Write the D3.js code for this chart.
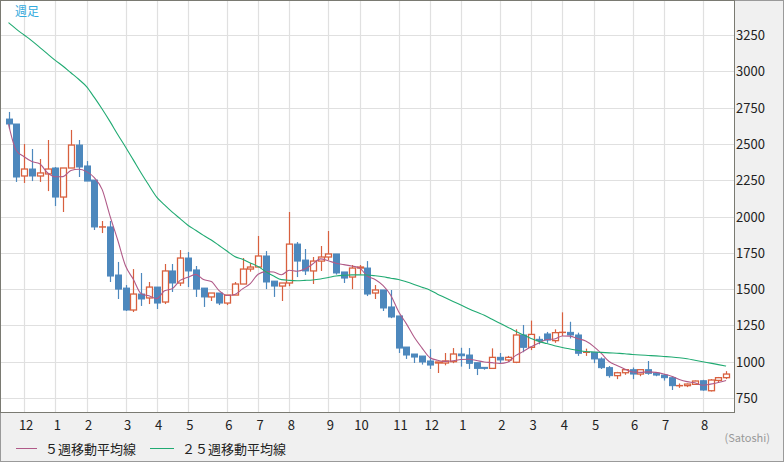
<!DOCTYPE html>
<html><head><meta charset="utf-8">
<script src="https://cdn.jsdelivr.net/npm/d3@7"></script>
<style>body{margin:0;background:#f0f0f0}svg{display:block}</style>
</head><body><svg id="c" width="784" height="462"></svg>
<script>
const opens  = [2671,2637,2279,2327,2279,2293,2334,2134,2334,2492,2348,2251,1928,1928,1597,1507,1356,1466,1439,1514,1411,1625,1542,1714,1632,1507,1446,1473,1404,1459,1535,1638,1652,1728,1555,1521,1542,1810,1700,1625,1693,1721,1742,1618,1583,1645,1645,1473,1494,1377,1315,1101,1053,1039,1005,991,991,1000,1053,1046,993,961,954,1030,1012,996,1184,1099,1154,1191,1145,1202,1202,1184,1065,1065,1019,959,904,924,945,915,945,920,908,890,835,835,844,869,800,871,890];
const closes = [2637,2272,2327,2279,2300,2327,2134,2334,2492,2341,2244,1928,1928,1590,1500,1356,1466,1432,1514,1404,1625,1542,1714,1625,1500,1446,1473,1404,1459,1535,1638,1652,1728,1549,1521,1542,1810,1693,1625,1693,1721,1742,1611,1576,1645,1652,1466,1494,1370,1308,1094,1046,1032,998,977,998,1005,1053,1041,989,954,954,1030,1012,1030,1184,1099,1188,1145,1149,1200,1202,1184,1058,1065,1019,959,904,924,945,915,945,920,908,890,835,835,846,867,805,874,890,915];
const highs  = [2720,2637,2499,2465,2396,2527,2341,2334,2596,2527,2382,2251,1969,1969,1687,1528,1638,1611,1549,1514,1673,1673,1769,1755,1659,1507,1473,1473,1459,1549,1714,1680,1866,1762,1555,1542,2031,1824,1776,1721,1797,1900,1742,1618,1666,1666,1693,1528,1494,1494,1315,1101,1053,1039,1087,998,1060,1094,1096,1094,993,961,1092,1060,1040,1223,1253,1283,1175,1205,1223,1340,1275,1200,1090,1065,1030,970,930,945,960,935,1005,925,915,900,850,850,870,875,880,895,935];
const lows   = [2603,2238,2231,2244,2238,2175,2072,2031,2334,2272,2244,1907,1886,1549,1432,1349,1342,1384,1397,1363,1397,1480,1521,1514,1446,1377,1418,1390,1390,1459,1535,1620,1700,1500,1446,1418,1520,1583,1597,1535,1625,1700,1600,1542,1500,1600,1452,1432,1349,1300,1060,1019,991,980,950,922,975,990,966,950,908,945,950,990,1000,990,1065,1080,1120,1130,1130,1177,1160,1040,1040,990,950,890,880,910,880,900,910,900,870,805,820,825,840,800,795,860,880];
const ma25   = [3335,3290,3250,3210,3165,3120,3075,3035,2990,2945,2895,2820,2740,2655,2565,2479,2390,2300,2215,2134,2080,2030,1985,1940,1905,1870,1838,1800,1762,1725,1705,1680,1655,1620,1590,1565,1560,1558,1560,1563,1570,1580,1590,1595,1598,1598,1597,1592,1585,1575,1566,1550,1532,1513,1494,1465,1440,1415,1390,1365,1342,1320,1292,1265,1238,1210,1185,1160,1140,1125,1110,1098,1088,1078,1070,1067,1064,1061,1058,1055,1050,1046,1043,1040,1036,1032,1027,1020,1010,1000,990,980,970];
const yTicks = [750,1000,1250,1500,1750,2000,2250,2500,2750,3000,3250];
const monthIdx = [2,6,10,15,19,23,28,32,36,41,45,50,54,58,63,67,71,75,80,84,89];
const monthLabels = ["12","1","2","3","4","5","6","7","8","9","10","11","12","1","2","3","4","5","6","7","8"];

const svg = d3.select("#c");
const font = "'Noto Sans CJK JP', sans-serif";
const W = 733, H = 411;
const x = d3.scaleLinear().domain([0,1]).range([8.5,16.3]);
const y = d3.scaleLinear().domain([750,3250]).range([398,35]);
const n = closes.length;

svg.append("rect").attr("x",0.5).attr("y",0.5).attr("width",783).attr("height",461).attr("fill","#f0f0f0").attr("stroke","#9a9a9a");
svg.append("rect").attr("x",1).attr("y",1).attr("width",W).attr("height",H).attr("fill","#fff");
const g = svg.append("g");
g.selectAll(".hg").data(yTicks).join("line").attr("x1",1).attr("x2",W+1)
  .attr("y1",d=>Math.round(y(d))+0.5).attr("y2",d=>Math.round(y(d))+0.5).attr("stroke","#e0e0e0").attr("stroke-width",1.2);
g.selectAll(".vg").data(monthIdx).join("line").attr("y1",1).attr("y2",H+1)
  .attr("x1",d=>Math.round(x(d))+0.5).attr("x2",d=>Math.round(x(d))+0.5).attr("stroke","#e0e0e0").attr("stroke-width",1.2);

const idx = d3.range(n);
// candles
const cg = g.append("g");
idx.forEach(i=>{
  const up = closes[i] >= opens[i];
  const col = up ? "#d8603e" : "#4d88bd";
  const cx = Math.round(x(i))+0.5;
  cg.append("line").attr("x1",cx).attr("x2",cx).attr("y1",y(highs[i])).attr("y2",y(lows[i])).attr("stroke",col).attr("stroke-width",1.2);
  const top = y(Math.max(opens[i],closes[i])), bot = y(Math.min(opens[i],closes[i]));
  if (bot-top < 1) {
    cg.append("line").attr("x1",cx-3.5).attr("x2",cx+3.5).attr("y1",top).attr("y2",top).attr("stroke",col).attr("stroke-width",1.5);
  } else {
    cg.append("rect").attr("x",cx-3).attr("width",6).attr("y",top).attr("height",bot-top)
      .attr("fill",up?"#fff":col).attr("stroke",col).attr("stroke-width",up?1.3:1);
  }
});
// MA5
const ma5 = idx.map(i=>d3.mean(closes.slice(Math.max(0,i-4),i+1)));
const line = d3.line().x((d,i)=>x(i)).y(d=>y(d)).curve(d3.curveMonotoneX);
g.append("path").datum(ma5).attr("d",line).attr("fill","none").attr("stroke","#b05a88").attr("stroke-width",1.1);
g.append("path").datum(ma25).attr("d",line).attr("fill","none").attr("stroke","#20aa72").attr("stroke-width",1.1);

svg.append("rect").attr("x",0.5).attr("y",0.5).attr("width",W+1).attr("height",H+1).attr("fill","none").attr("stroke","#7a7a72");

// y labels
svg.selectAll(".yl").data(yTicks).join("text").attr("x",736).attr("y",d=>y(d)+5)
  .attr("font-family",font).attr("font-size",13).attr("fill","#222").text(d=>d);
// month labels
svg.selectAll(".ml").data(monthIdx).join("text").attr("x",(d)=>x(d)+2).attr("y",430).attr("text-anchor","middle")
  .attr("font-family",font).attr("font-size",13).attr("fill","#222").text((d,i)=>monthLabels[i]);
svg.append("text").attr("x",770).attr("y",442).attr("text-anchor","end").attr("font-family",font).attr("font-size",11).attr("fill","#999").text("(Satoshi)");
svg.append("text").attr("x",15).attr("y",16).attr("font-family",font).attr("font-size",12).attr("fill","#33aadd").text("週足");
// legend
svg.append("line").attr("x1",16).attr("x2",37).attr("y1",448.5).attr("y2",448.5).attr("stroke","#b05a88");
svg.append("text").attr("x",45).attr("y",454).attr("font-family",font).attr("font-size",13).attr("fill","#222").text("５週移動平均線");
svg.append("line").attr("x1",150).attr("x2",174).attr("y1",448.5).attr("y2",448.5).attr("stroke","#20aa72");
svg.append("text").attr("x",182).attr("y",454).attr("font-family",font).attr("font-size",13).attr("fill","#222").text("２５週移動平均線");
</script></body></html>
